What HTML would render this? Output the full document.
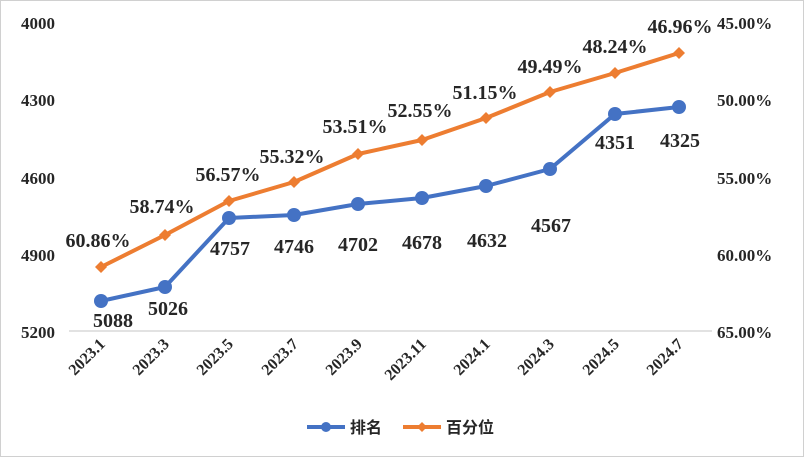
<!DOCTYPE html><html><head><meta charset="utf-8"><style>body{margin:0;background:#fff}svg{display:block}text{font-family:"Liberation Serif","Times New Roman",serif;font-weight:bold;fill:#262626}.cjk{font-family:"Noto Sans CJK SC","WenQuanYi Zen Hei",sans-serif}</style></head><body>
<svg width="804" height="457" viewBox="0 0 804 457">
<rect x="0.5" y="0.5" width="803" height="456" fill="#fff" stroke="#d0d0d0"/>
<line x1="69" y1="331" x2="712" y2="331" stroke="#d9d9d9" stroke-width="1.5"/>
<g font-size="17" text-anchor="end">
<text x="55" y="29">4000</text><text x="55" y="106">4300</text><text x="55" y="184">4600</text><text x="55" y="261">4900</text><text x="55" y="338">5200</text></g>
<g font-size="17" text-anchor="start">
<text x="717" y="29">45.00%</text><text x="717" y="106">50.00%</text><text x="717" y="184">55.00%</text><text x="717" y="261">60.00%</text><text x="717" y="338">65.00%</text></g>
<g font-size="16" text-anchor="end">
<text transform="translate(106,345) rotate(-45)">2023.1</text>
<text transform="translate(170,345) rotate(-45)">2023.3</text>
<text transform="translate(234,345) rotate(-45)">2023.5</text>
<text transform="translate(299,345) rotate(-45)">2023.7</text>
<text transform="translate(363,345) rotate(-45)">2023.9</text>
<text transform="translate(427,345) rotate(-45)">2023.11</text>
<text transform="translate(491,345) rotate(-45)">2024.1</text>
<text transform="translate(555,345) rotate(-45)">2024.3</text>
<text transform="translate(620,345) rotate(-45)">2024.5</text>
<text transform="translate(684,345) rotate(-45)">2024.7</text></g>
<polyline fill="none" stroke="#ed7d31" stroke-width="4" stroke-linejoin="round" points="101,267 165,235 229,201 294,182 358,154 422,140 486,118 550,92 615,73 679,53"/>
<g fill="#ed7d31">
<path d="M101,261 l6,6 -6,6 -6,-6z"/><path d="M165,229 l6,6 -6,6 -6,-6z"/><path d="M229,195 l6,6 -6,6 -6,-6z"/><path d="M294,176 l6,6 -6,6 -6,-6z"/><path d="M358,148 l6,6 -6,6 -6,-6z"/><path d="M422,134 l6,6 -6,6 -6,-6z"/><path d="M486,112 l6,6 -6,6 -6,-6z"/><path d="M550,86 l6,6 -6,6 -6,-6z"/><path d="M615,67 l6,6 -6,6 -6,-6z"/><path d="M679,47 l6,6 -6,6 -6,-6z"/></g>
<polyline fill="none" stroke="#4472c4" stroke-width="4" stroke-linejoin="round" points="101,301 165,287 229,218 294,215 358,204 422,198 486,186 550,169 615,114 679,107"/>
<g fill="#4472c4">
<circle cx="101" cy="301" r="7"/><circle cx="165" cy="287" r="7"/><circle cx="229" cy="218" r="7"/><circle cx="294" cy="215" r="7"/><circle cx="358" cy="204" r="7"/><circle cx="422" cy="198" r="7"/><circle cx="486" cy="186" r="7"/><circle cx="550" cy="169" r="7"/><circle cx="615" cy="114" r="7"/><circle cx="679" cy="107" r="7"/></g>
<g font-size="20" text-anchor="middle">
<text x="113" y="327">5088</text><text x="168" y="315">5026</text><text x="230" y="255">4757</text><text x="294" y="253">4746</text><text x="358" y="251">4702</text><text x="422" y="249">4678</text><text x="487" y="247">4632</text><text x="551" y="232">4567</text><text x="615" y="149">4351</text><text x="680" y="147">4325</text>
<text x="98" y="247">60.86%</text><text x="162" y="213">58.74%</text><text x="228" y="181">56.57%</text><text x="292" y="163">55.32%</text><text x="355" y="133">53.51%</text><text x="420" y="117">52.55%</text><text x="485" y="99">51.15%</text><text x="550" y="73">49.49%</text><text x="615" y="53">48.24%</text><text x="680" y="33">46.96%</text></g>
<line x1="307" y1="427" x2="345" y2="427" stroke="#4472c4" stroke-width="4"/><circle cx="326" cy="427" r="5" fill="#4472c4"/>
<text class="cjk" x="350" y="433" font-size="16">排名</text>
<line x1="403" y1="427" x2="441" y2="427" stroke="#ed7d31" stroke-width="4"/><path d="M422,422 l5,5 -5,5 -5,-5z" fill="#ed7d31"/>
<text class="cjk" x="446" y="433" font-size="16">百分位</text>
</svg></body></html>
